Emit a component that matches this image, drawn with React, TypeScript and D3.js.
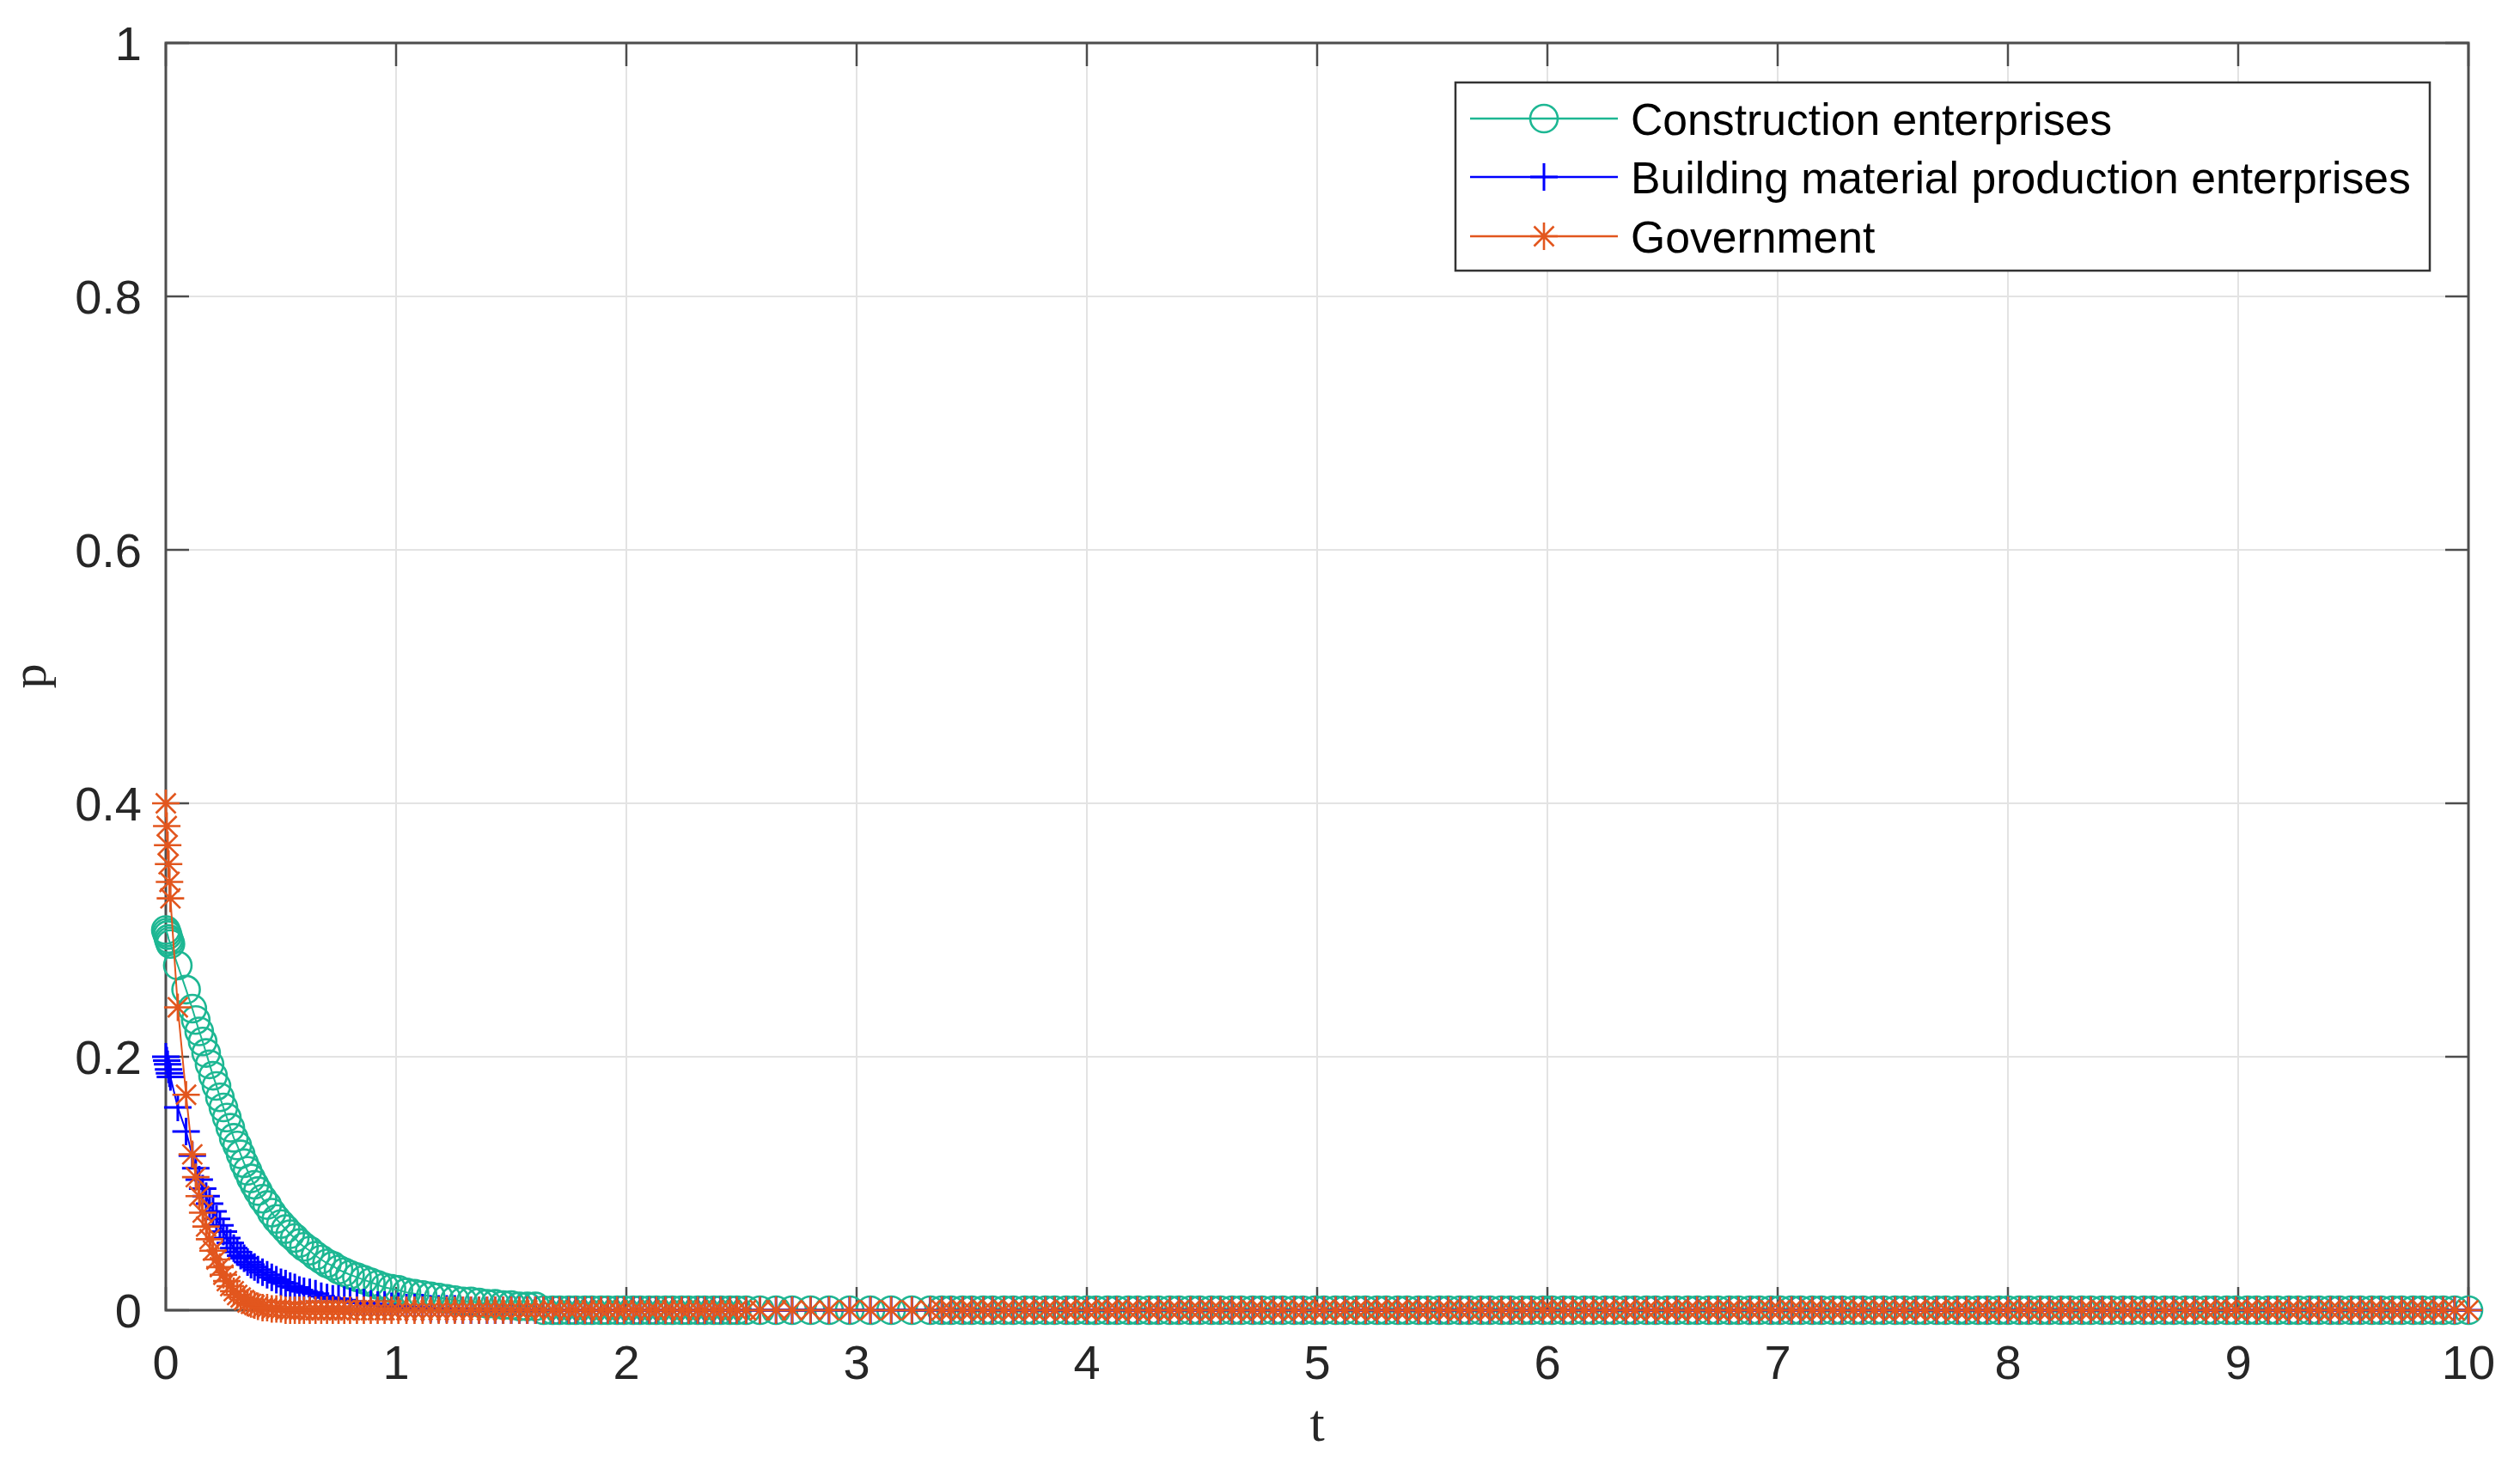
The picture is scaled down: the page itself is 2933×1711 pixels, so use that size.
import React from 'react';
import * as d3 from 'd3';

const W = 2933;
const H = 1711;

// Solver time steps in the decaying part (t)
const tDecay = [
  0, 0.004, 0.008, 0.012, 0.016, 0.02, 0.052, 0.088, 0.115, 0.13,
  0.145, 0.16, 0.175, 0.19, 0.205, 0.22, 0.235, 0.25, 0.265, 0.28,
  0.295, 0.31, 0.325, 0.34, 0.355, 0.37, 0.385, 0.4, 0.42, 0.44,
  0.46, 0.48, 0.5, 0.52, 0.54, 0.56, 0.58, 0.6, 0.625, 0.65,
  0.675, 0.7, 0.725, 0.75, 0.775, 0.8, 0.83, 0.86, 0.89, 0.92,
  0.95, 0.98, 1.01, 1.045, 1.08, 1.115, 1.15, 1.185, 1.22, 1.255,
  1.29, 1.325, 1.36, 1.395, 1.43, 1.465, 1.5, 1.535, 1.57, 1.605,
];

const pConstruction = [
  0.3, 0.298, 0.296, 0.293, 0.291, 0.289, 0.272, 0.253, 0.238, 0.229,
  0.22, 0.212, 0.203, 0.194, 0.185, 0.177, 0.168, 0.16, 0.152, 0.144,
  0.136, 0.13, 0.123, 0.116, 0.11, 0.104, 0.099, 0.094, 0.088, 0.083,
  0.077, 0.072, 0.068, 0.064, 0.06, 0.057, 0.053, 0.05, 0.047, 0.043,
  0.04, 0.037, 0.035, 0.032, 0.03, 0.028, 0.026, 0.024, 0.022, 0.02,
  0.018, 0.017, 0.016, 0.014, 0.013, 0.012, 0.011, 0.01, 0.009, 0.008,
  0.007, 0.007, 0.006, 0.005, 0.005, 0.004, 0.004, 0.003, 0.003, 0.003,
];

const pMaterial = [
  0.2, 0.197, 0.194, 0.19, 0.187, 0.184, 0.16, 0.141, 0.122, 0.112,
  0.103, 0.096, 0.09, 0.084, 0.078, 0.072, 0.067, 0.062, 0.057, 0.053,
  0.049, 0.046, 0.043, 0.041, 0.038, 0.036, 0.034, 0.032, 0.03, 0.028,
  0.026, 0.024, 0.022, 0.021, 0.019, 0.018, 0.016, 0.015, 0.014, 0.013,
  0.011, 0.01, 0.009, 0.009, 0.008, 0.007, 0.006, 0.006, 0.005, 0.004,
  0.004, 0.003, 0.003, 0.002, 0.002, 0.002, 0.001, 0.001, 0.001, 0.001,
  0, 0, 0, 0, 0, 0, 0, 0, 0, 0,
];

const pGovernment = [
  0.4, 0.382, 0.367, 0.352, 0.338, 0.325, 0.239, 0.17, 0.123, 0.105,
  0.09, 0.077, 0.066, 0.056, 0.047, 0.04, 0.034, 0.028, 0.023, 0.019,
  0.015, 0.012, 0.01, 0.008, 0.006, 0.005, 0.004, 0.003, 0.002, 0.002,
  0.001, 0.001, 0.001, 0, 0, 0, 0, 0, 0, 0,
  0, 0, 0, 0, 0, 0, 0, 0, 0, 0,
  0, 0, 0, 0, 0, 0, 0, 0, 0, 0,
  0, 0, 0, 0, 0, 0, 0, 0, 0, 0,
];

// Later solver steps: all three series read as p = 0 at these markers
const tTail = [
  1.64, 1.68, 1.71, 1.75, 1.78, 1.82, 1.85, 1.89, 1.92, 1.96, 1.99, 2.03, 2.06,
  2.1, 2.13, 2.17, 2.2, 2.24, 2.27, 2.31, 2.34, 2.38, 2.41, 2.45, 2.48, 2.52,
  2.58, 2.65, 2.72, 2.8, 2.88, 2.97, 3.06, 3.15, 3.24, 3.32,
  3.37, 3.41, 3.46, 3.5, 3.55, 3.59, 3.64, 3.68, 3.73, 3.77, 3.82, 3.86, 3.91,
  3.95, 4.0, 4.04, 4.09, 4.13, 4.18, 4.22, 4.27, 4.31, 4.36, 4.4, 4.45, 4.49,
  4.54, 4.58, 4.63, 4.67, 4.72, 4.76, 4.81, 4.85, 4.9, 4.94, 4.99, 5.03, 5.08,
  5.12, 5.17, 5.21, 5.26, 5.3, 5.35, 5.39, 5.44, 5.48, 5.53, 5.57, 5.62, 5.66,
  5.71, 5.75, 5.8, 5.84, 5.89, 5.93, 5.98, 6.02, 6.07, 6.11, 6.16, 6.2, 6.25,
  6.29, 6.34, 6.38, 6.43, 6.47, 6.52, 6.56, 6.61, 6.65, 6.7, 6.74, 6.79, 6.83,
  6.88, 6.92, 6.97, 7.01, 7.06, 7.1, 7.15, 7.19, 7.24, 7.28, 7.33, 7.37, 7.42,
  7.46, 7.51, 7.55, 7.6, 7.64, 7.69, 7.73, 7.78, 7.82, 7.87, 7.91, 7.96, 8.0,
  8.05, 8.09, 8.14, 8.18, 8.23, 8.27, 8.32, 8.36, 8.41, 8.45, 8.5, 8.54, 8.59,
  8.63, 8.68, 8.72, 8.77, 8.81, 8.86, 8.9, 8.95, 8.99, 9.04, 9.08, 9.13, 9.17,
  9.22, 9.26, 9.31, 9.35, 9.4, 9.44, 9.49, 9.53, 9.58, 9.62, 9.67, 9.71, 9.76,
  9.8, 9.85, 9.89, 9.94, 10.0,
];
const tailLevel = 0;

const xTicks = [0, 1, 2, 3, 4, 5, 6, 7, 8, 9, 10];
const yTicks = [0, 0.2, 0.4, 0.6, 0.8, 1];
const yTickLabels = ['0', '0.2', '0.4', '0.6', '0.8', '1'];

const seriesNames = ['Construction enterprises', 'Building material production enterprises', 'Government'];
const seriesValues = [pConstruction, pMaterial, pGovernment];
const seriesColors = ['#1DB793', '#0000FF', '#E2561E'];
const seriesMarkers = ['circle', 'plus', 'star'];

const M = { left: 193, right: 2873, top: 50, bottom: 1525 };
const x = d3.scaleLinear().domain([0, 10]).range([M.left, M.right]);
const y = d3.scaleLinear().domain([0, 1]).range([M.bottom, M.top]);

const AXIS = '#4d4d4d';
const TEXT = '#262626';
const GRID = '#e3e3e3';
const FONT = "'Liberation Sans', Arial, Helvetica, sans-serif";
const SERIF = "'Liberation Serif', 'Times New Roman', serif";

function Marker({ type, cx, cy, color, s }: { type: string; cx: number; cy: number; color: string; s: number }) {
  if (type === 'circle') {
    return <circle cx={cx} cy={cy} r={s} fill="none" stroke={color} strokeWidth={2.6} />;
  }
  if (type === 'plus') {
    return <path d={`M${cx - s},${cy}H${cx + s}M${cx},${cy - s}V${cy + s}`} stroke={color} strokeWidth={3} fill="none" />;
  }
  const d = s * 0.72;
  return (
    <path
      d={`M${cx - s},${cy}H${cx + s}M${cx},${cy - s}V${cy + s}M${cx - d},${cy - d}L${cx + d},${cy + d}M${cx - d},${cy + d}L${cx + d},${cy - d}`}
      stroke={color}
      strokeWidth={2.6}
      fill="none"
    />
  );
}

export default function App() {
  const series = seriesNames.map((name, i) => {
    const pts = tDecay.map((t, j) => ({ t, p: seriesValues[i][j] }));
    tTail.forEach((t) => pts.push({ t, p: tailLevel }));
    return { name, color: seriesColors[i], marker: seriesMarkers[i], pts };
  });
  const line = d3
    .line<{ t: number; p: number }>()
    .x((d) => x(d.t))
    .y((d) => y(d.p));
  const tickLen = 27;
  const MS = 16;

  const legX = 1694;
  const legY = 96;
  const legW = 1134;
  const legH = 219;
  const rowY = [138, 206, 275];

  return (
    <svg width={W} height={H} style={{ position: 'absolute', left: 0, top: 0, background: '#fff' }}>
      <rect x={0} y={0} width={W} height={H} fill="#fff" />
      {/* grid */}
      {xTicks.slice(1, -1).map((t) => (
        <line key={'gx' + t} x1={x(t)} x2={x(t)} y1={M.top} y2={M.bottom} stroke={GRID} strokeWidth={2} />
      ))}
      {yTicks.slice(1, -1).map((p) => (
        <line key={'gy' + p} x1={M.left} x2={M.right} y1={y(p)} y2={y(p)} stroke={GRID} strokeWidth={2} />
      ))}
      {/* box */}
      <rect x={M.left} y={M.top} width={M.right - M.left} height={M.bottom - M.top} fill="none" stroke={AXIS} strokeWidth={3} />
      {/* ticks */}
      {xTicks.map((t) => (
        <g key={'tx' + t}>
          <line x1={x(t)} x2={x(t)} y1={M.bottom} y2={M.bottom - tickLen} stroke={AXIS} strokeWidth={2.5} />
          <line x1={x(t)} x2={x(t)} y1={M.top} y2={M.top + tickLen} stroke={AXIS} strokeWidth={2.5} />
          <text x={x(t)} y={1605} fontFamily={FONT} fontSize={56} fill={TEXT} textAnchor="middle">
            {t}
          </text>
        </g>
      ))}
      {yTicks.map((p, i) => (
        <g key={'ty' + p}>
          <line x1={M.left} x2={M.left + tickLen} y1={y(p)} y2={y(p)} stroke={AXIS} strokeWidth={2.5} />
          <line x1={M.right} x2={M.right - tickLen} y1={y(p)} y2={y(p)} stroke={AXIS} strokeWidth={2.5} />
          <text x={165} y={y(p) + 20} fontFamily={FONT} fontSize={56} fill={TEXT} textAnchor="end">
            {yTickLabels[i]}
          </text>
        </g>
      ))}
      {/* axis labels */}
      <text x={1533} y={1677} fontFamily={SERIF} fontSize={62} fill={TEXT} textAnchor="middle">
        t
      </text>
      <text transform={`translate(53,787) rotate(-90)`} fontFamily={SERIF} fontSize={58} fill={TEXT} textAnchor="middle">
        p
      </text>
      {/* series */}
      {series.map((s) => (
        <g key={s.name}>
          <path d={line(s.pts) || ''} fill="none" stroke={s.color} strokeWidth={2} />
          {s.pts.map((d, k) => (
            <Marker key={k} type={s.marker} cx={x(d.t)} cy={y(d.p)} color={s.color} s={MS} />
          ))}
        </g>
      ))}
      {/* legend */}
      <rect x={legX} y={legY} width={legW} height={legH} fill="#fff" stroke="#333" strokeWidth={2.5} />
      {series.map((s, i) => (
        <g key={'leg' + i}>
          <line x1={1711} x2={1883} y1={rowY[i]} y2={rowY[i]} stroke={s.color} strokeWidth={2.5} />
          <Marker type={s.marker} cx={1797} cy={rowY[i]} color={s.color} s={MS} />
          <text x={1898} y={rowY[i] + 19} fontFamily={FONT} fontSize={51.7} fill="#000">
            {s.name}
          </text>
        </g>
      ))}
    </svg>
  );
}
